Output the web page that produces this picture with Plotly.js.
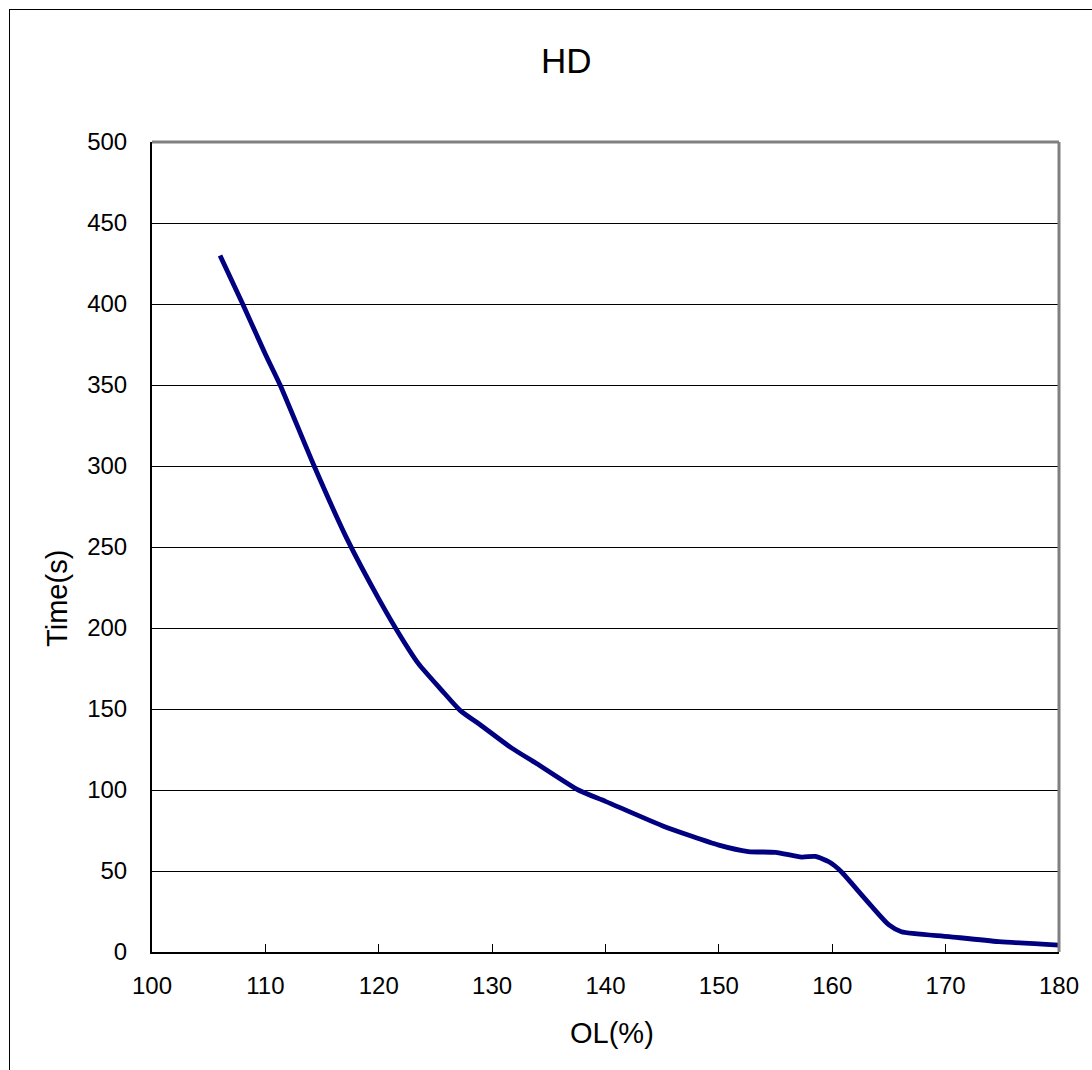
<!DOCTYPE html>
<html>
<head>
<meta charset="utf-8">
<script src="https://cdn.plot.ly/plotly-3.0.1.min.js"></script>
<style>
  html, body { margin: 0; padding: 0; background: #fff; overflow: hidden; }
  #wrap { position: relative; width: 1092px; height: 1070px; }
  #chart { position: absolute; left: 0; top: 0; width: 1092px; height: 1070px; }
  #frame { position: absolute; left: 9px; top: 9px; width: 1200px; height: 1200px;
           border-left: 1.5px solid #000; border-top: 1.5px solid #000; pointer-events: none; }
</style>
</head>
<body>
<div id="wrap">
  <div id="chart"></div>
  <div id="frame"></div>
</div>
<script>
// Overload (%) vs trip time (s)
const olPercent = [106, 108, 110, 111.3, 114.3, 117.2, 120, 122, 123.5, 125.5, 127.2, 129, 131.7, 134, 137.6, 140, 145, 150, 152.6, 155, 157.3, 158.5, 159.7, 160.8, 162, 163.5, 165, 166.1, 170.3, 174.7, 180];
const timeSec   = [430, 400, 369, 350, 300, 255, 218, 194, 178, 162, 149, 140, 126, 116, 100, 93, 78, 66, 62, 61.5, 58.6, 59, 55.7, 49.6, 40, 28, 16.7, 12.5, 9.5, 6.4, 4.3];
const xTicks = [100, 110, 120, 130, 140, 150, 160, 170, 180];
const yTicks = [0, 50, 100, 150, 200, 250, 300, 350, 400, 450, 500];

const font = "Liberation Sans, Arial, sans-serif";

const trace = {
  x: olPercent, y: timeSec, type: 'scatter', mode: 'lines',
  line: { color: '#000080', width: 4.8, shape: 'spline', smoothing: 0.6 },
  hoverinfo: 'skip', showlegend: false
};

const layout = {
  width: 1092, height: 1070,
  margin: { l: 152, r: 33, t: 142, b: 118 },
  paper_bgcolor: '#fff', plot_bgcolor: '#fff',
  font: { family: font, color: '#000' },
  xaxis: {
    range: [100, 180], tickvals: xTicks, ticktext: xTicks.map(String),
    showgrid: false, zeroline: false,
    showline: true, linecolor: '#000', linewidth: 2,
    ticks: 'inside', ticklen: 8, tickwidth: 1, tickcolor: '#000',
    tickfont: { family: font, size: 24, color: '#000' },
    ticklabelstandoff: 11, fixedrange: true
  },
  yaxis: {
    range: [0, 500], tickvals: yTicks, ticktext: yTicks.map(String),
    showgrid: true, gridcolor: '#000', gridwidth: 1, zeroline: false,
    showline: true, linecolor: '#000', linewidth: 2,
    ticks: '', tickfont: { family: font, size: 24, color: '#000' },
    ticklabelstandoff: 18, fixedrange: true
  },
  shapes: [
    { type: 'line', xref: 'paper', yref: 'paper', x0: 0, x1: 1, y0: 1, y1: 1,
      line: { color: '#808080', width: 3 }, layer: 'above' },
    { type: 'line', xref: 'paper', yref: 'paper', x0: 1, x1: 1, y0: 0, y1: 1,
      line: { color: '#808080', width: 3 }, layer: 'above' }
  ],
  annotations: [
    { text: 'HD', xref: 'paper', yref: 'paper', x: 0.4565, y: 1.1,
      xanchor: 'center', yanchor: 'middle', showarrow: false,
      font: { family: font, size: 35, color: '#000' } },
    { text: 'Time(s)', xref: 'paper', yref: 'paper', x: -0.1047, y: 0.436,
      xanchor: 'center', yanchor: 'middle', textangle: -90, showarrow: false,
      font: { family: font, size: 29, color: '#000' } },
    { text: 'OL(%)', xref: 'paper', yref: 'paper', x: 0.507, y: -0.1,
      xanchor: 'center', yanchor: 'middle', showarrow: false,
      font: { family: font, size: 29, color: '#000' } }
  ]
};

Plotly.newPlot('chart', [trace], layout, { displayModeBar: false, staticPlot: true });
</script>
</body>
</html>
